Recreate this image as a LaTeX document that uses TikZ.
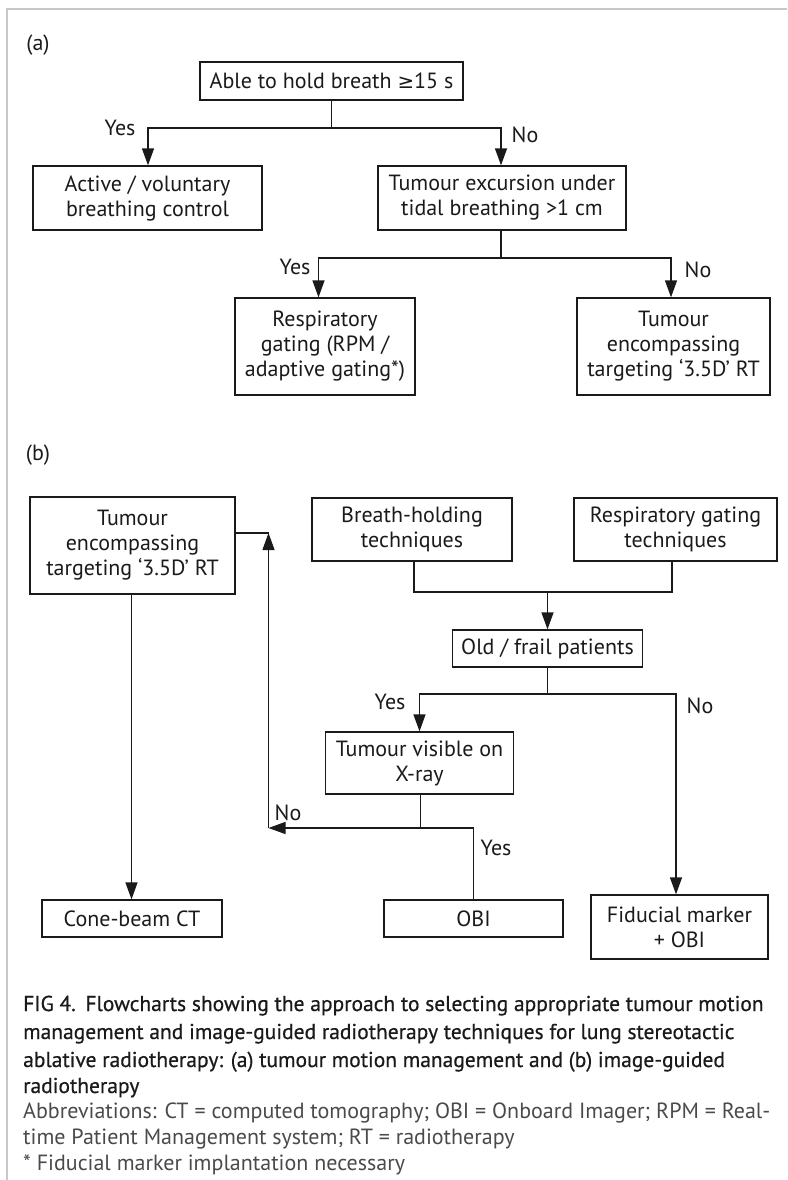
\documentclass[tikz,border=0pt]{standalone}
\usepackage{fontspec}
\setmainfont{PT Sans}
\newfontfamily\symf[Scale=0.9]{DejaVu Sans}
\newfontfamily\capf[FakeBold=0.6]{PT Sans}
\usetikzlibrary{arrows.meta,calc}
\definecolor{ink}{HTML}{1A1A1A}
\definecolor{framegray}{HTML}{C8C8C8}
\definecolor{abbr}{HTML}{4A4A4A}
\tikzset{
  box/.style={draw=ink, line width=1.3pt, inner sep=0pt, align=center, text=ink,
    font=\fontsize{22}{25}\selectfont},
  lbl/.style={inner sep=0pt, text=ink, font=\fontsize{22}{25}\selectfont},
  conn/.style={draw=ink, line width=1.3pt},
  arr/.style={conn, -{Triangle[length=17pt,width=12pt]}},
  captxt/.style={inner sep=0pt, anchor=base west, text=ink, font=\capf\fontsize{21.5}{28}\selectfont},
  abbtxt/.style={inner sep=0pt, anchor=base west, text=abbr, font=\fontsize{22}{26}\selectfont},
}
\begin{document}
\begin{tikzpicture}[x=1pt,y=-1pt]
\useasboundingbox (0,0) rectangle (787,1180);
\draw[framegray, line width=1.5pt] (7,1180) -- (7,9) -- (787,9);

% ---------- (a)
\node[lbl] (la) at (38,45) {(a)};
\node[box, minimum width=263pt, minimum height=38pt] (A1) at (331.5,81) {Able to hold breath {\symf ≥}15 s};
\node[box, minimum width=229pt, minimum height=64pt] (A2) at (147.5,198) {Active / voluntary\\breathing control};
\node[box, minimum width=248pt, minimum height=64pt] (A3) at (502,198) {Tumour excursion under\\tidal breathing >1 cm};
\node[box, minimum width=180pt, minimum height=97pt] (A4) at (325,346.5) {Respiratory\\gating (RPM /\\adaptive gating*)};
\node[box, minimum width=193pt, minimum height=97pt] (A5) at (673.5,346.5) {Tumour\\encompassing\\targeting ‘3.5D’ RT};

\coordinate (j1) at (331.5,128);
\coordinate (j1l) at (148,128);
\coordinate (j1r) at (501,128);
\draw[conn] (A1.south) -- (j1);
\draw[arr] (j1) -- (j1l) -- (j1l |- A2.north);
\draw[arr] (j1) -- (j1r) -- (j1r |- A3.north);
\node[lbl] (y1) at (120,128) {Yes};
\node[lbl] (n1) at (525,135) {No};

\coordinate (j2) at (501,258);
\coordinate (j2l) at (318.5,258);
\coordinate (j2r) at (671,258);
\draw[conn] (j2 |- A3.south) -- (j2);
\draw[arr] (j2) -- (j2l) -- (j2l |- A4.north);
\draw[arr] (j2) -- (j2r) -- (j2r |- A5.north);
\node[lbl] (y2) at (295,267) {Yes};
\node[lbl] (n2) at (698,270) {No};

% ---------- (b)
\node[lbl] (lb) at (38,455) {(b)};
\node[box, minimum width=205pt, minimum height=97pt] (B1) at (132.5,545.5) {Tumour\\encompassing\\targeting ‘3.5D’ RT};
\node[box, minimum width=200pt, minimum height=63pt] (B2) at (412,529.5) {Breath-holding\\techniques};
\node[box, minimum width=203pt, minimum height=63pt] (B3) at (675.5,529.5) {Respiratory gating\\techniques};
\node[box, minimum width=190pt, minimum height=37pt] (B4) at (547.5,648.5) {Old / frail patients};
\node[box, minimum width=188pt, minimum height=62pt] (B5) at (419.5,763) {Tumour visible on\\X-ray};
\node[box, minimum width=180pt, minimum height=37pt] (B6) at (132,918.5) {Cone-beam CT};
\node[box, minimum width=179pt, minimum height=37pt] (B7) at (473.5,918.5) {OBI};
\node[box, minimum width=177pt, minimum height=64pt] (B8) at (679.5,927) {Fiducial marker\\+ OBI};

\coordinate (j3) at (547.5,592);
\coordinate (j3l) at (414,592);
\coordinate (j3r) at (672,592);
\draw[conn] (j3l |- B2.south) -- (j3l) -- (j3r) -- (j3r |- B3.south);
\draw[arr] (j3) -- (B4.north);

\coordinate (j4) at (547.5,694);
\coordinate (j4l) at (419.5,694);
\coordinate (j4r) at (676,694);
\draw[conn] (B4.south) -- (j4);
\draw[arr] (j4) -- (j4l) -- (B5.north);
\draw[arr] (j4) -- (j4r) -- (j4r |- B8.north);
\node[lbl] (y3) at (390,702) {Yes};
\node[lbl] (n3) at (700,706) {No};

\coordinate (j5) at (420.5,828);
\coordinate (j5l) at (268.5,828);
\coordinate (j5r) at (473.5,828);
\coordinate (j6) at (268.5,533);
\draw[conn] (j5 |- B5.south) -- (j5);
\draw[arr] (j5) -- (j5l);
\draw[conn] (j5) -- (j5r) -- (B7.north);
\draw[arr] (j5l) -- (j6);
\draw[conn] (j6) -- (j6 -| B1.east);
\node[lbl] (n4) at (288,813) {No};
\node[lbl] (y4) at (496,848) {Yes};

\coordinate (b1s) at (131.5,594);
\draw[arr] (b1s |- B1.south) -- (b1s |- B6.north);

% ---------- caption
\node[captxt] (c1) at (23,1011) {FIG 4.\hspace{0.45em}Flowcharts showing the approach to selecting appropriate tumour motion};
\node[captxt] (c2) at (23,1039) {management and image-guided radiotherapy techniques for lung stereotactic};
\node[captxt] (c3) at (23,1067) {ablative radiotherapy: (a) tumour motion management and (b) image-guided};
\node[captxt] (c4) at (23,1093) {radiotherapy};
\node[abbtxt] (d1) at (23,1118) {Abbreviations: CT = computed tomography; OBI = Onboard Imager; RPM = Real-};
\node[abbtxt] (d2) at (23,1144) {time Patient Management system; RT = radiotherapy};
\node[abbtxt] (d3) at (23,1170) {* Fiducial marker implantation necessary};
\end{tikzpicture}
\end{document}
